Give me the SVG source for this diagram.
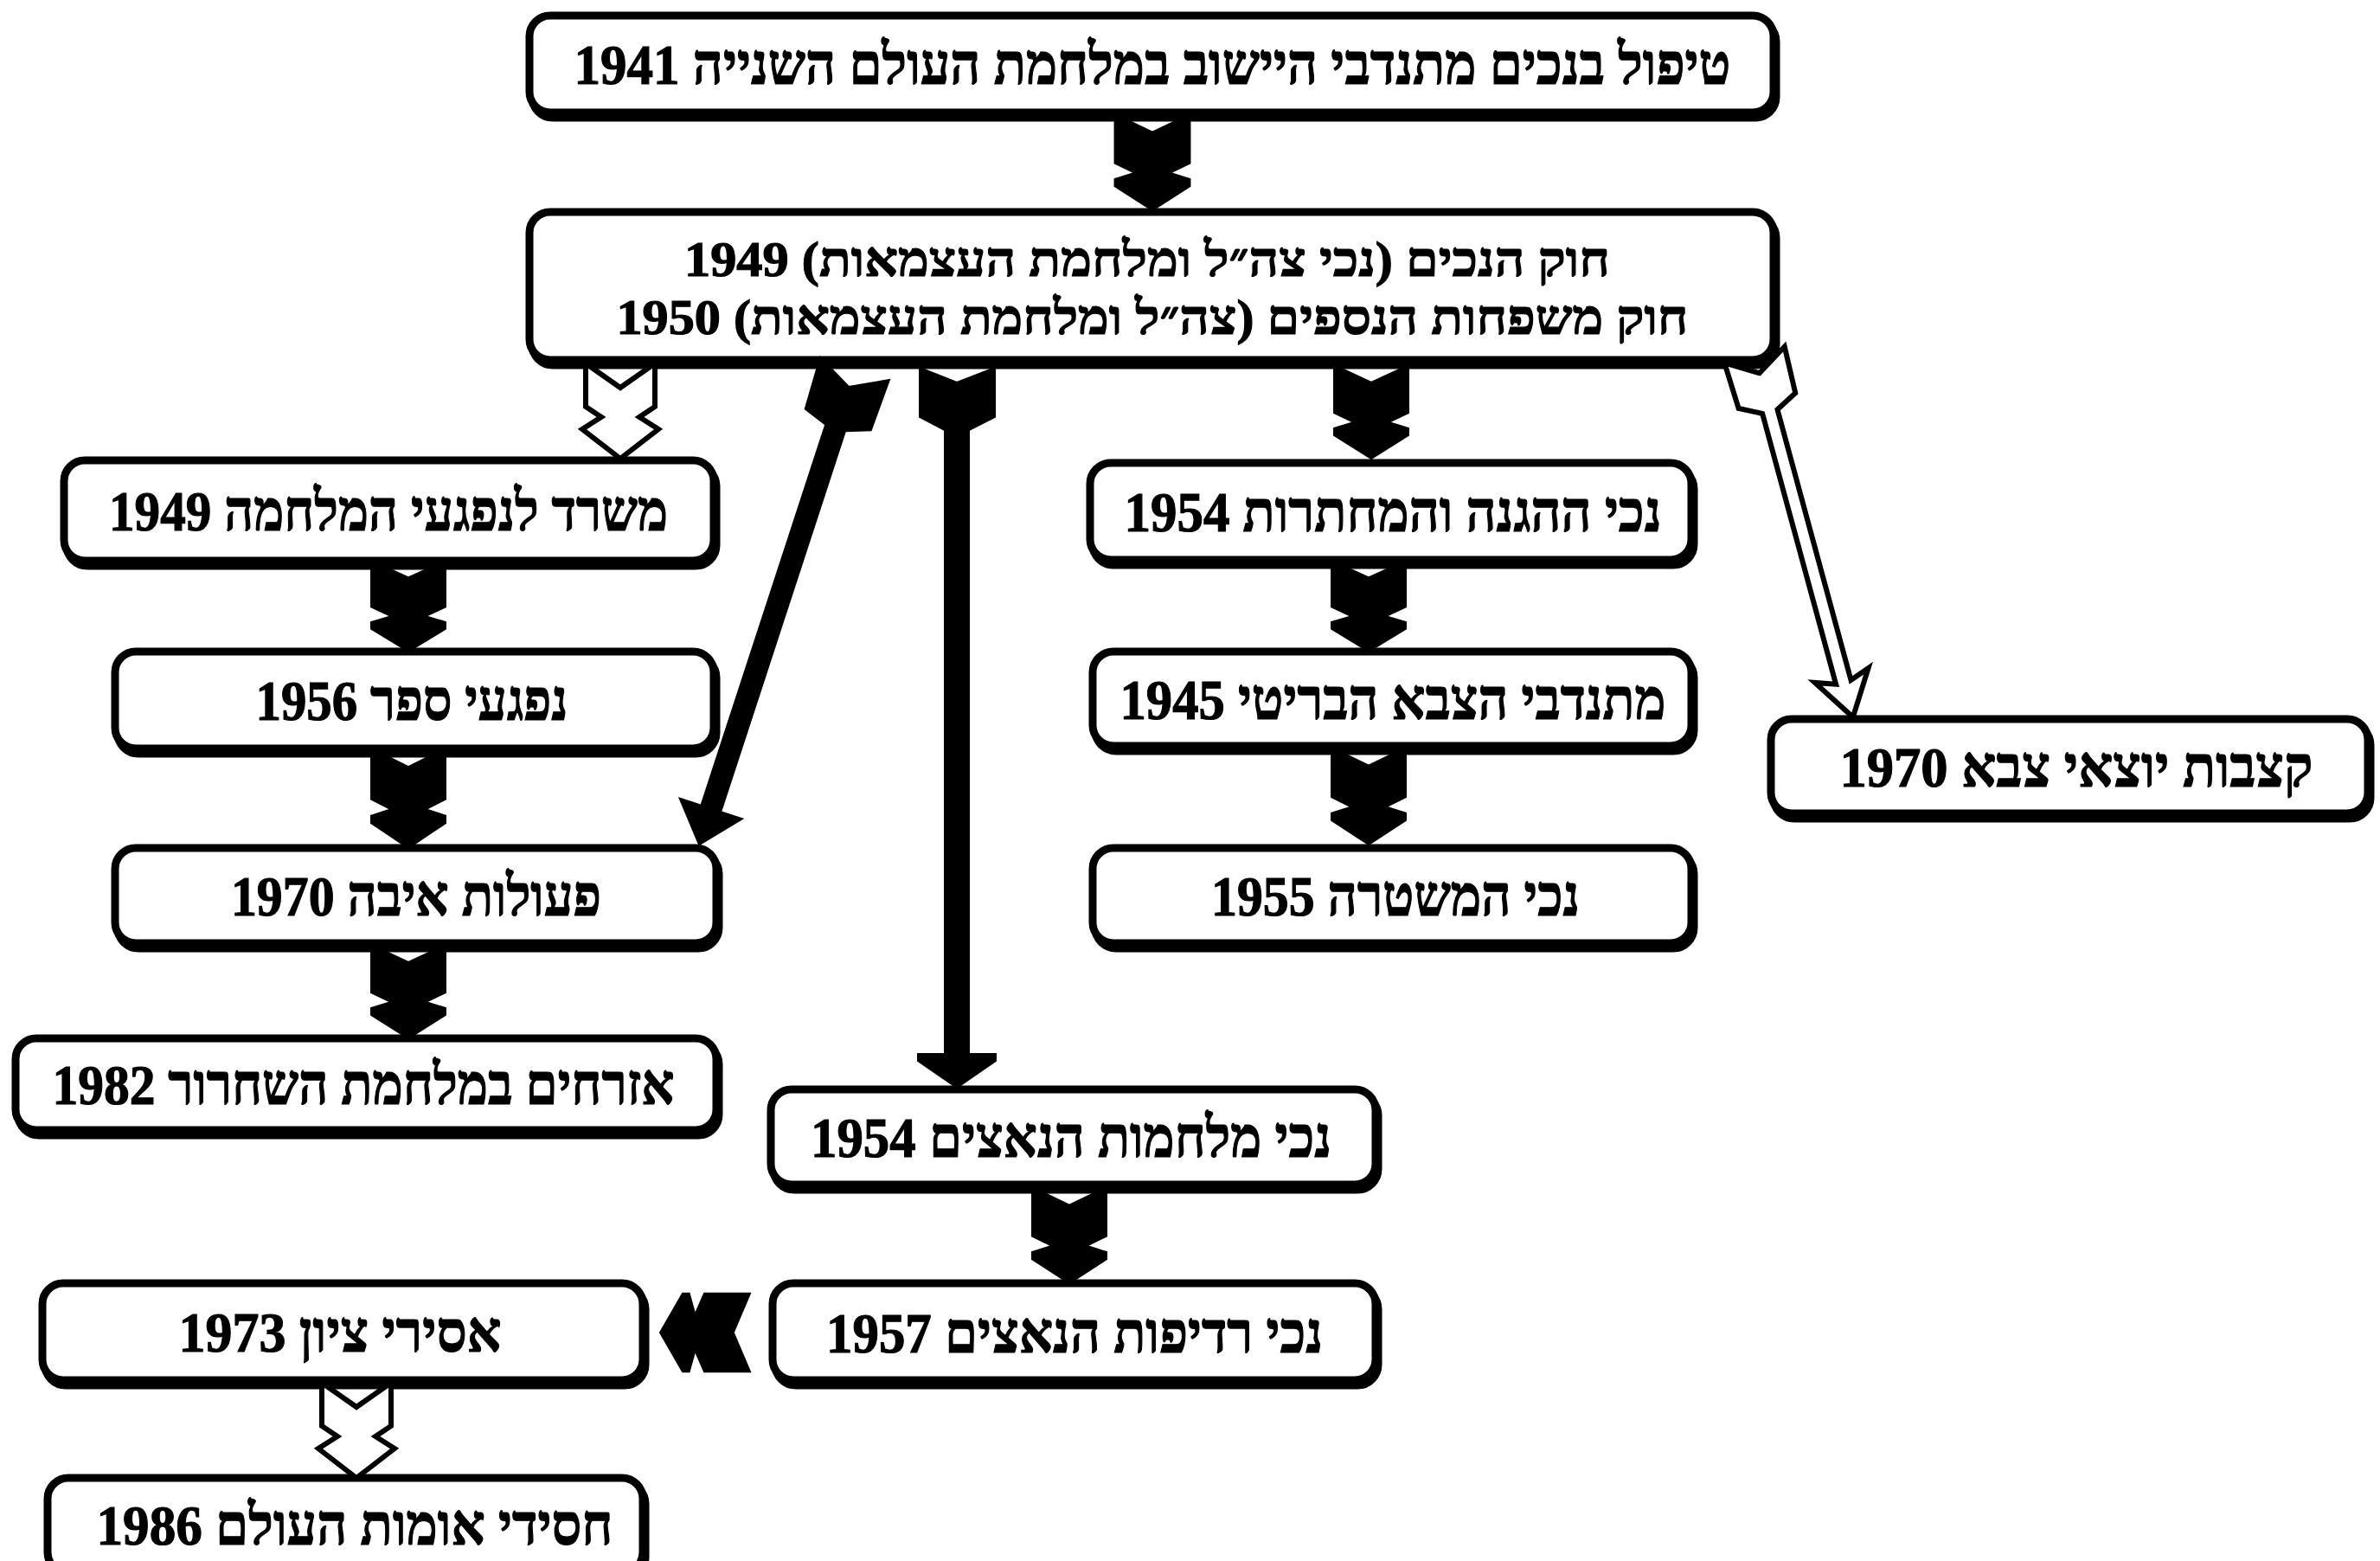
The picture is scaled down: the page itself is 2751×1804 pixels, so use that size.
<svg xmlns="http://www.w3.org/2000/svg" xmlns:xlink="http://www.w3.org/1999/xlink" width="2751" height="1804" viewBox="0 0 2751 1804">
<style>
.box{fill:#fff;stroke:#000;stroke-width:9;filter:url(#sh)}
.t{font-family:"Liberation Serif","DejaVu Sans",serif;font-weight:bold;font-size:66px;fill:#000;stroke:#000;stroke-width:1.2;text-anchor:middle;direction:rtl}
.t2{font-size:56px}
.ba{fill:#000;stroke:#000;stroke-width:2}
.wa{fill:#fff;stroke:#000;stroke-width:6;stroke-linejoin:miter}
</style>
<defs>
<filter id="sh" x="-5%" y="-10%" width="110%" height="130%">
<feFlood flood-color="#000" result="f"/>
<feComposite in="f" in2="SourceAlpha" operator="in" result="s"/>
<feOffset in="s" dx="3" dy="6" result="o"/>
<feMerge><feMergeNode in="o"/><feMergeNode in="SourceGraphic"/></feMerge>
</filter>
<path id="blk" d="M-43,0 L0,20 L43,0 L43,55 L20,66 L43,73 L43,81 L0,108 L-43,81 L-43,73 L-20,66 L-43,55 Z"/>
<path id="wht" d="M-40,0 L0,28 L40,0 L40,50 L22,62 L44,76 L0,110 L-44,76 L-22,62 L-40,50 Z"/>
</defs>
<rect width="2751" height="1804" fill="#fff"/>

<g id="n-top"><rect class="box" x="612" y="18" width="1438" height="112" rx="24"/>
<text class="t" x="1332" y="97" textLength="1337" lengthAdjust="spacingAndGlyphs">טיפול בנכים מתנדבי היישוב במלחמת העולם השנייה 1941</text></g>

<g id="n-law"><rect class="box" x="612" y="245" width="1438" height="171" rx="24"/>
<text class="t t2" x="1326" y="319" textLength="1070" lengthAdjust="spacingAndGlyphs">חוק הנכים (נכי צה״ל ומלחמת העצמאות) 1949</text>
<text class="t t2" x="1332" y="386" textLength="1239" lengthAdjust="spacingAndGlyphs">חוק משפחות הנספים (צה״ל ומלחמת העצמאות) 1950</text></g>

<g id="n-office"><rect class="box" x="74" y="532" width="751" height="116" rx="24"/>
<text class="t" x="449" y="613" textLength="646" lengthAdjust="spacingAndGlyphs">משרד לנפגעי המלחמה 1949</text></g>

<g id="n-border"><rect class="box" x="133" y="753" width="692" height="112" rx="24"/>
<text class="t" x="476" y="832" textLength="361" lengthAdjust="spacingAndGlyphs">נפגעי ספר 1956</text></g>

<g id="n-hostile"><rect class="box" x="133" y="980" width="695" height="110" rx="24"/>
<text class="t" x="481" y="1058" textLength="428" lengthAdjust="spacingAndGlyphs">פעולות איבה 1970</text></g>

<g id="n-civil"><rect class="box" x="18" y="1200" width="810" height="106" rx="24"/>
<text class="t" x="420" y="1276" textLength="719" lengthAdjust="spacingAndGlyphs">אזרחים במלחמת השחרור 1982</text></g>

<g id="n-haganah"><rect class="box" x="1260" y="535" width="695" height="112" rx="24"/>
<text class="t" x="1610" y="614" textLength="621" lengthAdjust="spacingAndGlyphs">נכי ההגנה והמחתרות 1954</text></g>

<g id="n-british"><rect class="box" x="1263" y="753" width="692" height="109" rx="24"/>
<text class="t" x="1610" y="831" textLength="631" lengthAdjust="spacingAndGlyphs">מתנדבי הצבא הבריטי 1945</text></g>

<g id="n-police"><rect class="box" x="1263" y="980" width="692" height="110" rx="24"/>
<text class="t" x="1613" y="1058" textLength="426" lengthAdjust="spacingAndGlyphs">נכי המשטרה 1955</text></g>

<g id="n-veterans"><rect class="box" x="2047" y="831" width="690" height="109" rx="24"/>
<text class="t" x="2400" y="909" textLength="547" lengthAdjust="spacingAndGlyphs">קצבות יוצאי צבא 1970</text></g>

<g id="n-nazi-war"><rect class="box" x="891" y="1259" width="699" height="110" rx="24"/>
<text class="t" x="1238" y="1337" textLength="602" lengthAdjust="spacingAndGlyphs">נכי מלחמות הנאצים 1954</text></g>

<g id="n-nazi-persec"><rect class="box" x="893" y="1483" width="697" height="112" rx="24"/>
<text class="t" x="1242" y="1563" textLength="574" lengthAdjust="spacingAndGlyphs">נכי רדיפות הנאצים 1957</text></g>

<g id="n-zion"><rect class="box" x="49" y="1483" width="694" height="112" rx="24"/>
<text class="t" x="393" y="1562" textLength="373" lengthAdjust="spacingAndGlyphs">אסירי ציון 1973</text></g>

<g id="n-righteous"><rect class="box" x="55" y="1708" width="688" height="110" rx="24"/>
<text class="t" x="410" y="1785" textLength="597" lengthAdjust="spacingAndGlyphs">חסידי אומות העולם 1986</text></g>

<g id="connectors">
<use xlink:href="#blk" class="ba" transform="translate(1332,132) scale(1.01,1.028)"/>
<use xlink:href="#wht" class="wa" transform="translate(717,420)"/>
<path class="ba" d="M-42,0 L0,22 L42,0 L40,62 L12,72 L12,535 L38,535 L0,579 L-38,535 L-12,535 L-12,72 L-40,62 Z" transform="translate(988,426) rotate(18.1)"/>
<path class="ba" d="M1063,425 L1106,442 L1150,425 L1150,482 L1120,497 L1120,1218 L1151,1218 L1151,1226 L1106,1257 L1061,1226 L1061,1218 L1092,1218 L1092,497 L1063,482 Z"/>
<use xlink:href="#blk" class="ba" transform="translate(1585,422)"/>
<use xlink:href="#blk" class="ba" transform="translate(1582,648) scale(1,0.972)"/>
<use xlink:href="#blk" class="ba" transform="translate(1582,864) scale(1,1.037)"/>
<path class="wa" d="M-36,0 L0,22 L36,0 L34,55 L9,68 L9,392 L32,384 L0,434 L-32,384 L-9,392 L-9,68 L-34,55 Z" transform="translate(2028,410) rotate(-15.2)"/>
<use xlink:href="#blk" class="ba" transform="translate(472,648) scale(1,0.972)"/>
<use xlink:href="#blk" class="ba" transform="translate(472,865) scale(1,1.065)"/>
<use xlink:href="#blk" class="ba" transform="translate(472,1092)"/>
<use xlink:href="#blk" class="ba" transform="translate(1236,1372) scale(1,1.028)"/>
<use xlink:href="#blk" class="ba" transform="translate(867,1540) rotate(90) scale(1.05,0.963)"/>
<use xlink:href="#wht" class="wa" transform="translate(412,1598)"/>
</g>
</svg>
